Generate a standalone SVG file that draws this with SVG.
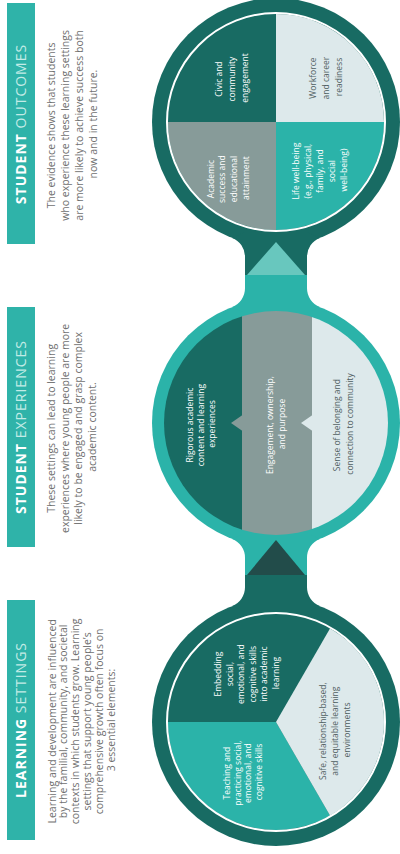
<svg xmlns="http://www.w3.org/2000/svg" width="400" height="854" viewBox="0 0 400 854">
<defs>
<clipPath id="c2clip"><circle cx="431" cy="276" r="112"/></clipPath>
</defs>
<style>
.t{font-family:"Open Sans","Liberation Sans",sans-serif;}
.title{font-size:14px;letter-spacing:1px;text-anchor:middle;fill:#fff}
.tb{font-weight:700;fill:#fff}
.tn{font-weight:400;fill:#c2ebe6}
.para{font-size:10.5px;fill:#707070;text-anchor:middle}
.lab{font-size:8.5px;text-anchor:middle;fill:#fff}
.labd{font-size:8.5px;text-anchor:middle;fill:#4f5d5f}
.bar{fill:#2fb3a9}
.dk{fill:#186b63}
.tq{fill:#2bb3a9}
.gr{fill:#879b99}
.lt{fill:#dde9eb}
.wr{fill:none;stroke:#fff;stroke-width:2}
.ad{fill:#224c4a}
.al{fill:#68c7be}
</style>
<rect width="400" height="854" fill="#fff"/>
<g transform="translate(0,854) rotate(-90)">

<g id="header-learning">
<rect class="bar" x="14" y="7" width="240" height="28"/>
<text class="t title" x="134" y="26"><tspan class="tb">LEARNING</tspan><tspan class="tn"> SETTINGS</tspan></text>
<text class="t para" x="134" y="55.5">
<tspan x="134" y="55.5">Learning and development are influenced</tspan>
<tspan x="134" y="67.3">by the familial, community, and societal</tspan>
<tspan x="134" y="79.1">contexts in which students grow. Learning</tspan>
<tspan x="134" y="90.9">settings that support young people’s</tspan>
<tspan x="134" y="102.7">comprehensive growth often focus on</tspan>
<tspan x="134" y="114.5">3 essential elements:</tspan>
</text>
</g>

<g id="header-experiences">
<rect class="bar" x="307" y="7" width="240" height="28"/>
<text class="t title" x="427" y="26"><tspan class="tb">STUDENT</tspan><tspan class="tn"> EXPERIENCES</tspan></text>
<text class="t para" x="427" y="55">
<tspan x="427" y="55">These settings can lead to learning</tspan>
<tspan x="427" y="68.5">experiences where young people are more</tspan>
<tspan x="427" y="82">likely to be engaged and grasp complex</tspan>
<tspan x="427" y="95.5">academic content.</tspan>
</text>
</g>

<g id="header-outcomes">
<rect class="bar" x="610" y="7" width="241" height="28"/>
<text class="t title" x="730" y="26"><tspan class="tb">STUDENT</tspan><tspan class="tn"> OUTCOMES</tspan></text>
<text class="t para" x="730" y="55">
<tspan x="730" y="55">The evidence shows that students</tspan>
<tspan x="730" y="69">who experience these learning settings</tspan>
<tspan x="730" y="83">are more likely to achieve success both</tspan>
<tspan x="730" y="97">now and in the future.</tspan>
</text>
</g>

<g id="circle-learning">
<circle class="dk" cx="132" cy="276" r="124"/>
<path class="tq" d="M132,276 L38.47,330 A108,108 0 0 1 132,168 Z"/>
<path class="dk" d="M132,276 L132,168 A108,108 0 0 1 225.53,330 Z"/>
<path class="lt" d="M132,276 L225.53,330 A108,108 0 0 1 38.47,330 Z"/>
<circle class="wr" cx="132" cy="276" r="109"/>
<text class="t lab" x="82" y="230">
<tspan x="82" y="230">Teaching and</tspan>
<tspan x="82" y="240.5">practicing social,</tspan>
<tspan x="82" y="251">emotional, and</tspan>
<tspan x="82" y="261.5">cognitive skills</tspan>
</text>
<text class="t lab" x="181" y="221">
<tspan x="181" y="221">Embedding</tspan>
<tspan x="181" y="232.5">social,</tspan>
<tspan x="181" y="244">emotional, and</tspan>
<tspan x="181" y="255.5">cognitive skills</tspan>
<tspan x="181" y="267">into academic</tspan>
<tspan x="181" y="278.5">learning</tspan>
</text>
<text class="t labd" x="124" y="326">
<tspan x="124" y="326">Safe, relationship-based,</tspan>
<tspan x="124" y="338">and equitable learning</tspan>
<tspan x="124" y="350">environments</tspan>
</text>
</g>

<g id="circle-experiences">
<circle class="tq" cx="431" cy="276" r="124"/>
<g clip-path="url(#c2clip)">
<rect class="dk" x="310" y="160" width="242" height="82"/>
<rect class="gr" x="310" y="242" width="242" height="70"/>
<rect class="lt" x="310" y="312" width="242" height="82"/>
<path class="gr" d="M423,242.5 L431,231 L439,242.5 Z"/>
<path class="lt" d="M423,312.5 L431,301 L439,312.5 Z"/>
</g>
<text class="t lab" x="430" y="193">
<tspan x="430" y="193">Rigorous academic</tspan>
<tspan x="430" y="204">content and learning</tspan>
<tspan x="430" y="215">experiences</tspan>
</text>
<text class="t lab" x="430" y="273">
<tspan x="430" y="273">Engagement, ownership,</tspan>
<tspan x="430" y="285">and purpose</tspan>
</text>
<text class="t labd" x="430" y="340">
<tspan x="430" y="340">Sense of belonging and</tspan>
<tspan x="430" y="352.5">connection to community</tspan>
</text>
</g>

<g id="circle-outcomes">
<circle class="dk" cx="732" cy="276" r="124"/>
<path class="gr" d="M732,276 L624,276 A108,108 0 0 1 732,168 Z"/>
<path class="dk" d="M732,276 L732,168 A108,108 0 0 1 840,276 Z"/>
<path class="lt" d="M732,276 L840,276 A108,108 0 0 1 732,384 Z"/>
<path class="tq" d="M732,276 L732,384 A108,108 0 0 1 624,276 Z"/>
<circle class="wr" cx="732" cy="276" r="109"/>
<text class="t lab" x="676" y="213.5">
<tspan x="676" y="213.5">Academic</tspan>
<tspan x="676" y="225.2">success and</tspan>
<tspan x="676" y="236.9">educational</tspan>
<tspan x="676" y="248.6">attainment</tspan>
</text>
<text class="t lab" x="776" y="222">
<tspan x="776" y="222">Civic and</tspan>
<tspan x="776" y="235">community</tspan>
<tspan x="776" y="248">engagement</tspan>
</text>
<text class="t lab" x="684" y="299">
<tspan x="684" y="299">Life well-being</tspan>
<tspan x="684" y="311">(e.g., physical,</tspan>
<tspan x="684" y="323">family, and</tspan>
<tspan x="684" y="335">social</tspan>
<tspan x="684" y="347">well-being)</tspan>
</text>
<text class="t labd" x="777" y="316">
<tspan x="777" y="316">Workforce</tspan>
<tspan x="777" y="329">and career</tspan>
<tspan x="777" y="342">readiness</tspan>
</text>
</g>

<g id="connectors">
<rect class="dk" x="242" y="245" width="37.5" height="62"/>
<path class="dk" d="M247.97,232.08 A20,20 0 0 0 266.67,245 L242,245 Z"/>
<path class="dk" d="M247.97,319.92 A20,20 0 0 1 266.67,307 L242,307 Z"/>
<rect class="tq" x="279" y="245" width="38" height="62"/>
<path class="tq" d="M315.03,232.08 A20,20 0 0 1 296.33,245 L321,245 Z"/>
<path class="tq" d="M315.03,319.92 A20,20 0 0 0 296.33,307 L321,307 Z"/>
<path class="ad" d="M279,247 L314,276 L279,305 Z"/>
<rect class="tq" x="545" y="245" width="34.5" height="62"/>
<path class="tq" d="M546.97,232.08 A20,20 0 0 0 565.67,245 L541,245 Z"/>
<path class="tq" d="M546.97,319.92 A20,20 0 0 1 565.67,307 L541,307 Z"/>
<rect class="dk" x="579" y="245" width="39" height="62"/>
<path class="dk" d="M616.03,232.08 A20,20 0 0 1 597.33,245 L622,245 Z"/>
<path class="dk" d="M616.03,319.92 A20,20 0 0 0 597.33,307 L622,307 Z"/>
<path class="al" d="M579,247 L612,276 L579,305 Z"/>
</g>
</g>
</svg>
